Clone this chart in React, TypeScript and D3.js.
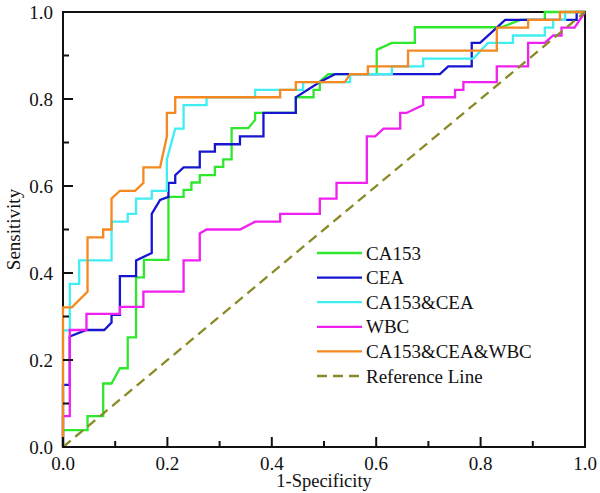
import React, { useEffect, useRef } from "react";
import * as d3 from "d3";

const seriesNames = ["CA153", "CEA", "CA153&CEA", "WBC", "CA153&CEA&WBC"];
const seriesColors = ["#2ee82e", "#1616d0", "#40eef2", "#f020f0", "#f5891f"];
const referenceName = "Reference Line";
const referenceColor = "#8a8a26";

const ca153Fpr = [0, 0, 0.047, 0.047, 0.077, 0.077, 0.093, 0.109, 0.124, 0.124, 0.140, 0.140, 0.155, 0.155, 0.202, 0.202, 0.231, 0.231, 0.246, 0.246, 0.262, 0.262, 0.291, 0.291, 0.307, 0.307, 0.323, 0.323, 0.355, 0.368, 0.368, 0.446, 0.446, 0.480, 0.480, 0.492, 0.492, 0.508, 0.601, 0.601, 0.630, 0.674, 0.674, 0.840, 0.876, 0.923, 0.923, 1];
const ca153Tpr = [0, 0.039, 0.039, 0.071, 0.071, 0.146, 0.146, 0.181, 0.181, 0.252, 0.252, 0.390, 0.390, 0.430, 0.430, 0.575, 0.575, 0.591, 0.591, 0.608, 0.608, 0.625, 0.625, 0.644, 0.644, 0.661, 0.661, 0.733, 0.733, 0.752, 0.768, 0.768, 0.804, 0.804, 0.821, 0.821, 0.840, 0.857, 0.857, 0.913, 0.929, 0.929, 0.965, 0.965, 0.982, 0.982, 1, 1];

const ceaFpr = [0, 0, 0.013, 0.013, 0.045, 0.079, 0.093, 0.093, 0.109, 0.109, 0.140, 0.140, 0.170, 0.170, 0.186, 0.202, 0.202, 0.215, 0.215, 0.231, 0.262, 0.262, 0.291, 0.291, 0.339, 0.339, 0.384, 0.384, 0.446, 0.446, 0.492, 0.521, 0.722, 0.738, 0.783, 0.783, 0.799, 0.831, 0.847, 0.984, 0.984, 1];
const ceaTpr = [0, 0.143, 0.143, 0.254, 0.269, 0.269, 0.286, 0.304, 0.304, 0.393, 0.393, 0.429, 0.446, 0.536, 0.568, 0.575, 0.607, 0.607, 0.625, 0.643, 0.643, 0.679, 0.679, 0.696, 0.696, 0.714, 0.714, 0.768, 0.768, 0.804, 0.839, 0.857, 0.857, 0.875, 0.875, 0.929, 0.929, 0.964, 0.982, 0.982, 1, 1];

const comboFpr = [0, 0, 0.013, 0.013, 0.031, 0.031, 0.093, 0.093, 0.124, 0.124, 0.140, 0.140, 0.170, 0.170, 0.199, 0.199, 0.215, 0.231, 0.231, 0.275, 0.275, 0.368, 0.368, 0.460, 0.460, 0.550, 0.550, 0.630, 0.630, 0.690, 0.690, 0.786, 0.814, 0.862, 0.862, 0.923, 0.923, 0.939, 0.939, 0.962, 0.962, 1];
const comboTpr = [0, 0.268, 0.268, 0.375, 0.375, 0.429, 0.429, 0.518, 0.518, 0.536, 0.536, 0.571, 0.571, 0.589, 0.589, 0.661, 0.732, 0.732, 0.786, 0.786, 0.804, 0.804, 0.821, 0.821, 0.839, 0.839, 0.857, 0.857, 0.875, 0.875, 0.893, 0.893, 0.929, 0.929, 0.946, 0.946, 0.964, 0.964, 0.982, 0.982, 1, 1];

const wbcFpr = [0, 0, 0.013, 0.013, 0.045, 0.045, 0.109, 0.109, 0.154, 0.154, 0.231, 0.231, 0.262, 0.262, 0.275, 0.339, 0.368, 0.416, 0.416, 0.492, 0.492, 0.524, 0.524, 0.582, 0.582, 0.598, 0.614, 0.646, 0.646, 0.658, 0.690, 0.690, 0.751, 0.751, 0.767, 0.767, 0.831, 0.831, 0.891, 0.891, 0.923, 0.939, 0.955, 0.955, 0.980, 1];
const wbcTpr = [0, 0.071, 0.071, 0.269, 0.269, 0.306, 0.306, 0.322, 0.322, 0.357, 0.357, 0.429, 0.429, 0.491, 0.500, 0.500, 0.518, 0.518, 0.536, 0.536, 0.571, 0.571, 0.607, 0.607, 0.714, 0.714, 0.732, 0.732, 0.768, 0.768, 0.786, 0.804, 0.804, 0.821, 0.821, 0.839, 0.839, 0.875, 0.875, 0.929, 0.929, 0.946, 0.946, 0.964, 0.964, 1];

const allFpr = [0, 0, 0.017, 0.047, 0.047, 0.077, 0.077, 0.093, 0.093, 0.109, 0.138, 0.154, 0.154, 0.186, 0.199, 0.199, 0.215, 0.215, 0.416, 0.416, 0.446, 0.446, 0.540, 0.550, 0.584, 0.584, 0.661, 0.661, 0.831, 0.831, 0.891, 0.891, 0.952, 0.952, 1];
const allTpr = [0, 0.321, 0.321, 0.357, 0.482, 0.482, 0.500, 0.500, 0.571, 0.589, 0.589, 0.607, 0.643, 0.643, 0.714, 0.768, 0.768, 0.804, 0.804, 0.821, 0.821, 0.839, 0.839, 0.857, 0.857, 0.875, 0.875, 0.911, 0.911, 0.964, 0.964, 0.982, 0.982, 1, 1];

const refFpr = [0, 1];
const refTpr = [0, 1];

const xTicks = [0, 0.2, 0.4, 0.6, 0.8, 1.0];
const yTicks = [0, 0.2, 0.4, 0.6, 0.8, 1.0];
const minorTicks = [0.1, 0.3, 0.5, 0.7, 0.9];

const xTitle = "1-Specificity";
const yTitle = "Sensitivity";

const W = 600, H = 493;
const M = { left: 63, top: 12, right: 15, bottom: 46 };
const FONT = "'Liberation Serif', 'Times New Roman', serif";

export default function App() {
  const ref = useRef<SVGSVGElement>(null);
  useEffect(() => {
    const svg = d3.select(ref.current);
    svg.selectAll("*").remove();
    const pw = W - M.left - M.right;
    const ph = H - M.top - M.bottom;
    const x = d3.scaleLinear().domain([0, 1]).range([M.left, M.left + pw]);
    const y = d3.scaleLinear().domain([0, 1]).range([M.top + ph, M.top]);

    svg.append("rect")
      .attr("x", M.left).attr("y", M.top).attr("width", pw).attr("height", ph)
      .attr("fill", "none").attr("stroke", "#111").attr("stroke-width", 2);

    const series = [
      [ca153Fpr, ca153Tpr],
      [ceaFpr, ceaTpr],
      [comboFpr, comboTpr],
      [wbcFpr, wbcTpr],
      [allFpr, allTpr],
    ];
    const line = d3.line<[number, number]>().x(d => x(d[0])).y(d => y(d[1]));

    const g = svg.append("g");
    series.forEach(([fx, ty], i) => {
      const pts: [number, number][] = fx.map((v, k) => [v, ty[k]]);
      g.append("path")
        .attr("d", line(pts))
        .attr("fill", "none")
        .attr("stroke", seriesColors[i])
        .attr("stroke-width", 2.3)
        .attr("stroke-linejoin", "miter");
    });
    const refPts: [number, number][] = refFpr.map((v, k) => [v, refTpr[k]]);
    g.append("path")
      .attr("d", line(refPts))
      .attr("fill", "none")
      .attr("stroke", referenceColor)
      .attr("stroke-width", 2.3)
      .attr("stroke-dasharray", "10,6");

    svg.append("line").attr("x1", M.left).attr("x2", M.left + pw).attr("y1", y(0)).attr("y2", y(0))
      .attr("stroke", "#111").attr("stroke-width", 2);

    const tg = svg.append("g").attr("stroke", "#111").attr("stroke-width", 2);
    xTicks.forEach(t => {
      tg.append("line").attr("x1", x(t)).attr("x2", x(t)).attr("y1", y(0)).attr("y2", y(0) - 10);
      tg.append("line").attr("y1", y(t)).attr("y2", y(t)).attr("x1", x(0)).attr("x2", x(0) + 10);
    });
    minorTicks.forEach(t => {
      tg.append("line").attr("x1", x(t)).attr("x2", x(t)).attr("y1", y(0)).attr("y2", y(0) - 6);
      tg.append("line").attr("y1", y(t)).attr("y2", y(t)).attr("x1", x(0)).attr("x2", x(0) + 6);
    });

    const fmt = d3.format(".1f");
    xTicks.forEach(t => {
      svg.append("text").attr("x", x(t)).attr("y", y(0) + 22.5)
        .attr("text-anchor", "middle").attr("font-family", FONT).attr("font-size", 19)
        .attr("fill", "#111").text(fmt(t));
    });
    yTicks.forEach(t => {
      svg.append("text").attr("x", x(0) - 10).attr("y", y(t) + 6.5)
        .attr("text-anchor", "end").attr("font-family", FONT).attr("font-size", 19)
        .attr("fill", "#111").text(fmt(t));
    });

    svg.append("text").attr("x", x(0.5)).attr("y", 487)
      .attr("text-anchor", "middle").attr("font-family", FONT).attr("font-size", 18.5)
      .attr("fill", "#111").text(xTitle);
    svg.append("text")
      .attr("transform", `translate(20,${(y(0) + y(1)) / 2}) rotate(-90)`)
      .attr("text-anchor", "middle").attr("font-family", FONT).attr("font-size", 19)
      .attr("fill", "#111").text(yTitle);

    const lg = svg.append("g").attr("transform", "translate(317,253)");
    const names = [...seriesNames, referenceName];
    const cols = [...seriesColors, referenceColor];
    names.forEach((n, i) => {
      const yy = i * 24.6;
      lg.append("line").attr("x1", 0).attr("x2", 45).attr("y1", yy).attr("y2", yy)
        .attr("stroke", cols[i]).attr("stroke-width", 2.3)
        .attr("stroke-dasharray", i === names.length - 1 ? "10,6" : null);
      lg.append("text").attr("x", 49).attr("y", yy + 6.5)
        .attr("font-family", FONT).attr("font-size", 19).attr("fill", "#111").text(n);
    });
  }, []);
  return (
    <svg ref={ref} width={W} height={H}
      style={{ position: "absolute", left: 0, top: 0, background: "#fff" }} />
  );
}
